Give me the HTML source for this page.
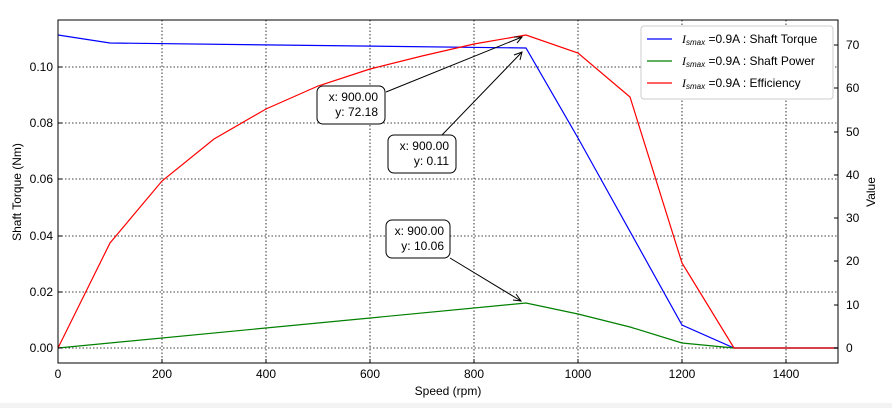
<!DOCTYPE html><html><head><style>body{margin:0;background:#fff}svg{display:block;font-family:"Liberation Sans",sans-serif}</style></head><body>
<svg width="892" height="408" viewBox="0 0 892 408">
<rect x="0" y="403" width="892" height="5" fill="#f3f3f3"/>
<g stroke="#000" stroke-dasharray="1.5,2" stroke-width="0.8">
<line x1="162" y1="20" x2="162" y2="363"/><line x1="266" y1="20" x2="266" y2="363"/><line x1="370" y1="20" x2="370" y2="363"/><line x1="474" y1="20" x2="474" y2="363"/><line x1="578" y1="20" x2="578" y2="363"/><line x1="682" y1="20" x2="682" y2="363"/><line x1="786" y1="20" x2="786" y2="363"/>
<line x1="58" y1="348" x2="838" y2="348"/><line x1="58" y1="292" x2="838" y2="292"/><line x1="58" y1="236" x2="838" y2="236"/><line x1="58" y1="179" x2="838" y2="179"/><line x1="58" y1="123" x2="838" y2="123"/><line x1="58" y1="67" x2="838" y2="67"/>
</g>
<g fill="none" stroke-width="1.2">
<polyline stroke="#00f" points="58,35 110,43 526,48 578,138 682,325 734,348 838,348"/>
<polyline stroke="#008000" points="58,348 526,303 578,314 630,327 682,343 734,348 838,348"/>
<polyline stroke="#f00" points="58,348 110,243 162,181 214,139 266,109 318,86 370,69 422,56 474,44 526,35 578,53 630,97 682,263 734,348 838,348"/>
</g>
<rect x="58" y="20" width="780" height="343" fill="none" stroke="#000" stroke-width="1"/>
<g stroke="#000">
<path d="M58,363v-4M162,363v-4M266,363v-4M370,363v-4M474,363v-4M578,363v-4M682,363v-4M786,363v-4"/>
<path d="M58,348h4M58,292h4M58,236h4M58,179h4M58,123h4M58,67h4M838,348h-4M838,305h-4M838,261h-4M838,218h-4M838,175h-4M838,132h-4M838,88h-4M838,45h-4"/>
</g>
<g font-size="12" text-anchor="middle">
<text x="58" y="378">0</text><text x="162" y="378">200</text><text x="266" y="378">400</text><text x="370" y="378">600</text><text x="474" y="378">800</text><text x="578" y="378">1000</text><text x="682" y="378">1200</text><text x="786" y="378">1400</text>
<text x="448" y="395">Speed  (rpm)</text>
</g>
<g font-size="12" text-anchor="end">
<text x="53" y="352">0.00</text><text x="53" y="296">0.02</text><text x="53" y="240">0.04</text><text x="53" y="183">0.06</text><text x="53" y="127">0.08</text><text x="53" y="71">0.10</text>
</g>
<g font-size="12">
<text x="846" y="352">0</text><text x="846" y="309">10</text><text x="846" y="265">20</text><text x="846" y="222">30</text><text x="846" y="179">40</text><text x="846" y="136">50</text><text x="846" y="92">60</text><text x="846" y="49">70</text>
</g>
<text transform="translate(21,192) rotate(-90)" font-size="12" text-anchor="middle">Shaft Torque  (Nm)</text>
<text transform="translate(875,192) rotate(-90)" font-size="12" text-anchor="middle">Value</text>
<g stroke="#000" fill="none">
<line x1="386" y1="92" x2="522" y2="37"/><path d="M514,37L522,37L517,43"/>
<line x1="442" y1="135" x2="522" y2="52"/><path d="M514,55L522,52L520,60"/>
<line x1="450" y1="258" x2="521" y2="301"/><path d="M513,300L521,301L516,294"/>
</g>
<g font-size="12">
<rect x="317" y="86" width="68" height="38" rx="6" fill="#fff" stroke="#000"/>
<text x="378" y="101" text-anchor="end">x: 900.00</text><text x="378" y="116" text-anchor="end">y: 72.18</text>
<rect x="388" y="135" width="68" height="38" rx="6" fill="#fff" stroke="#000"/>
<text x="449" y="150" text-anchor="end">x: 900.00</text><text x="449" y="165" text-anchor="end">y: 0.11</text>
<rect x="386" y="220" width="64" height="38" rx="6" fill="#fff" stroke="#000"/>
<text x="444" y="235" text-anchor="end">x: 900.00</text><text x="444" y="250" text-anchor="end">y: 10.06</text>
</g>
<rect x="641" y="26" width="192" height="73" rx="3" fill="#fff" stroke="#ccc"/>
<g font-size="12">
<line x1="647" y1="39" x2="672" y2="39" stroke="#00f" stroke-width="1.2"/>
<line x1="647" y1="61" x2="672" y2="61" stroke="#008000" stroke-width="1.2"/>
<line x1="647" y1="83" x2="672" y2="83" stroke="#f00" stroke-width="1.2"/>
<text x="682" y="43"><tspan font-style="italic" font-family="Liberation Serif">I</tspan><tspan font-size="8" font-style="italic" dy="2">smax</tspan><tspan dy="-2"> =0.9A : Shaft Torque</tspan></text>
<text x="682" y="65"><tspan font-style="italic" font-family="Liberation Serif">I</tspan><tspan font-size="8" font-style="italic" dy="2">smax</tspan><tspan dy="-2"> =0.9A : Shaft Power</tspan></text>
<text x="682" y="87"><tspan font-style="italic" font-family="Liberation Serif">I</tspan><tspan font-size="8" font-style="italic" dy="2">smax</tspan><tspan dy="-2"> =0.9A : Efficiency</tspan></text>
</g>
</svg></body></html>
